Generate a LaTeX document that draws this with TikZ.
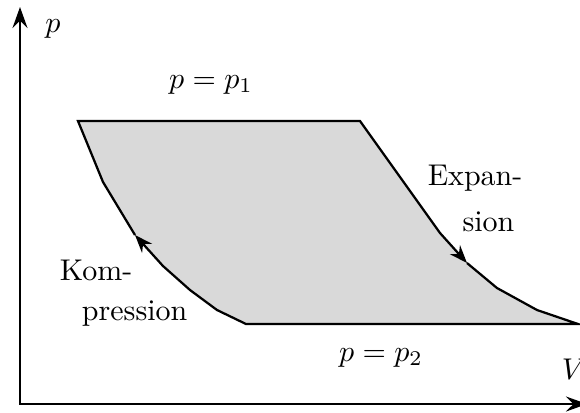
\documentclass[tikz,border=0pt]{standalone}
\usepackage{amsmath,amssymb}
\usepackage{tikz}
\usetikzlibrary{arrows.meta}
\usepackage{xcolor}
\begin{document}
\begin{tikzpicture}[x=0.3333pt,y=-0.3333pt,>={Stealth[length=6pt,width=4.5pt,inset=2pt]},every node/.style={inner sep=0pt}]
\useasboundingbox (0,0) rectangle (580,412);
% corners of the cycle
\coordinate (a) at (78,121);
\coordinate (b) at (360,121);
\coordinate (c) at (578,324);
\coordinate (d) at (246,324);
% expansion
\coordinate (e1) at (440,233);
\coordinate (e2) at (467,263);
\coordinate (e3) at (497,288);
\coordinate (e4) at (537,310);
% compression
\coordinate (k1) at (217,310);
\coordinate (k2) at (190,290);
\coordinate (k3) at (163,266);
\coordinate (k4) at (135,235);
\coordinate (k5) at (103,182);
\fill[gray!30] (a) -- (b) -- (e1) -- (e2) -- (e3) -- (e4) -- (c) -- (d) -- (k1) -- (k2) -- (k3) -- (k4) -- (k5) -- cycle;
\draw[line width=0.75pt,->] (k4) -- (k5) -- (a) -- (b) -- (e1) -- (e2);
\draw[line width=0.75pt,->] (e2) -- (e3) -- (e4) -- (c) -- (d) -- (k1) -- (k2) -- (k3) -- (k4);
% axes
\coordinate (o) at (20,404);
\coordinate (ptip) at (20,7);
\coordinate (vtip) at (587,404);
\draw[line width=0.75pt,{Stealth[length=7pt,width=5pt,inset=2.5pt]}-{Stealth[length=7pt,width=5pt,inset=2.5pt]}] (ptip) -- (o) -- (vtip);
\node[anchor=base] (plab) at (53,32) {$p$};
\node[anchor=base] (vlab) at (574,379) {$V$};
\node[anchor=base] (p1) at (211,88) {$p=p_1$};
\node[anchor=base] (p2) at (381,361) {$p=p_2$};
\node[anchor=base east] (exp1) at (523,185) {Expan-};
\node[anchor=base east] (exp2) at (515,231) {sion};
\node[anchor=base east] (kom1) at (133,280) {Kom-};
\node[anchor=base east] (kom2) at (188,320) {pression};
\end{tikzpicture}
\end{document}
